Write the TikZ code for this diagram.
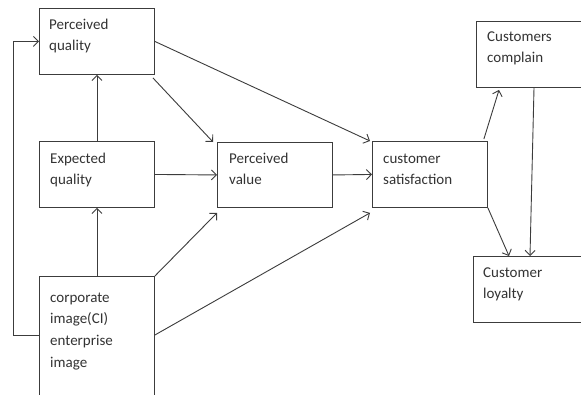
\documentclass[tikz,border=0pt]{standalone}
\usepackage{fontspec}
\setmainfont{Carlito}
\usetikzlibrary{arrows.meta}
\definecolor{ln}{HTML}{3C3C3C}
\definecolor{tx}{HTML}{333333}
\begin{document}
\begin{tikzpicture}[x=1pt,y=-1pt,
  box/.style={draw=ln, line width=0.9pt, rectangle, inner sep=0pt, anchor=north west},
  txt/.style={anchor=base west, inner sep=0pt, text=tx, font=\fontsize{15}{21.7}\selectfont},
  arr/.style={draw=ln, line width=0.9pt, -{Straight Barb[length=5pt,width=10pt]}},
  ln0/.style={draw=ln, line width=0.9pt}]
\useasboundingbox (0,0) rectangle (581,394);
\fill[white] (0,0) rectangle (581,394);
% boxes
\node[box, minimum width=115pt, minimum height=66pt] (pq) at (39,8) {};
\node[box, minimum width=115pt, minimum height=66pt] (eq) at (39,141) {};
\node[box, minimum width=115pt, minimum height=140pt] (ci) at (39,276) {};
\node[box, minimum width=115pt, minimum height=65pt] (pv) at (217,142) {};
\node[box, minimum width=115pt, minimum height=66pt] (cs) at (372,141) {};
\node[box, minimum width=125pt, minimum height=66pt] (cc) at (476,21) {};
\node[box, minimum width=125pt, minimum height=66pt] (cl) at (473,256) {};
% texts
\node[txt] (pqt) at (49,29) {\vtop{\hbox{Perceived}\hbox{quality}}};
\node[txt] (eqt) at (50,163) {\vtop{\hbox{Expected}\hbox{quality}}};
\node[txt] (pvt) at (229,163) {\vtop{\hbox{Perceived}\hbox{value}}};
\node[txt] (cst) at (383,163) {\vtop{\hbox{customer}\hbox{satisfaction}}};
\node[txt] (cct) at (487,41) {\vtop{\hbox{Customers}\hbox{complain}}};
\node[txt] (clt) at (483,277) {\vtop{\hbox{Customer}\hbox{loyalty}}};
\node[txt] (cit) at (50,302) {\vtop{\hbox{corporate}\hbox{image(CI)}\hbox{enterprise}\hbox{image}}};
% connectors
\draw[arr] (eq.north) -- (pq.south);
\draw[arr] (ci.north) -- (eq.south);
\draw[arr] ([xshift=-2pt,yshift=-3pt]pq.south east) -- ([xshift=-4pt]pv.north west);
\draw[arr] (pq.east) -- ([xshift=-2pt]cs.north west);
\draw[arr] (eq.east) -- (pv.west);
\draw[arr] (pv.east) -- (cs.west);
\draw[arr] (ci.north east) -- ([yshift=-5pt]pv.south west);
\draw[arr] ([yshift=-59pt]ci.north east) -- ([xshift=-2pt,yshift=-5pt]cs.south west);
\draw[arr] ([xshift=-4pt,yshift=2pt]cs.north east) -- ([xshift=23pt,yshift=-2pt]cc.south west);
\draw[arr] (cs.south east) -- ([xshift=36pt]cl.north west);
\draw[arr] ([xshift=58pt]cc.south west) -- ([xshift=57pt]cl.north west);
\draw[arr] ([yshift=-59pt]ci.north west) -- ++(-26,0) |- (pq.west);
\end{tikzpicture}
\end{document}
